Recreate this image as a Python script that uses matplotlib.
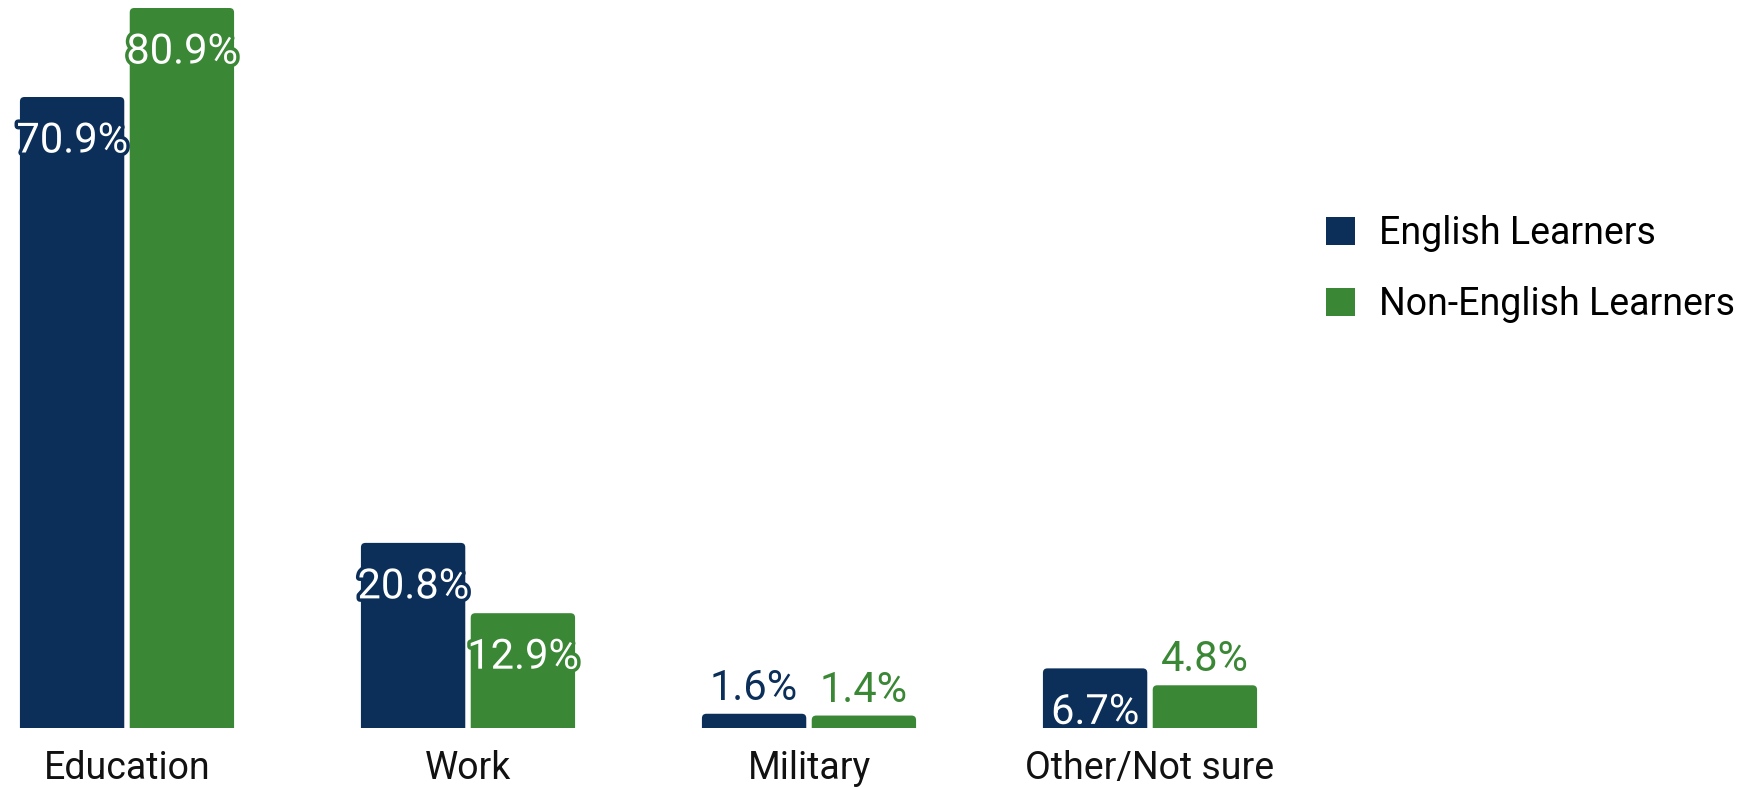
import matplotlib
matplotlib.use("Agg")
import matplotlib.pyplot as plt
import matplotlib.patheffects as pe
from matplotlib.patches import FancyBboxPatch
import numpy as np

plt.rcParams['font.family'] = ['Roboto', 'DejaVu Sans']

categories = ["Education", "Work", "Military", "Other/Not sure"]
series_names = ["English Learners", "Non-English Learners"]
english_learners = [70.9, 20.8, 1.6, 6.7]
non_english_learners = [80.9, 12.9, 1.4, 4.8]
colors = ["#0c2f5a", "#3a8735"]

W, H = 1744, 787
fig = plt.figure(figsize=(W / 100, H / 100), dpi=100)

# layout in pixels
px_per_x = 341.0
first_center_px = 127.0
ax_right_px = 1290.0
base_px = 728.0
px_per_y = 720.0 / 80.9

ax = fig.add_axes([0, (H - base_px) / H, ax_right_px / W, base_px / H])
x0 = -first_center_px / px_per_x
ax.set_xlim(x0, x0 + ax_right_px / px_per_x)
ax.set_ylim(0, base_px / px_per_y)

x = np.arange(len(categories))
bar_w = 0.306
gap = 0.016
offsets = [-(bar_w + gap) / 2, (bar_w + gap) / 2]
series = [english_learners, non_english_learners]

radius = 4.5 / px_per_x
aspect = px_per_x / px_per_y

for s, (vals, col, name) in enumerate(zip(series, colors, series_names)):
    bars = ax.bar(x + offsets[s], vals, width=bar_w, color=col, label=name)
    for b, v in zip(bars, vals):
        bx, bw, bh = b.get_x(), b.get_width(), b.get_height()
        b.set_visible(False)
        # rounded top corners; bottom corners fall below the axis and are clipped
        p = FancyBboxPatch((bx, -2), bw, bh + 2,
                           boxstyle=f"round,pad=0,rounding_size={radius}",
                           mutation_aspect=aspect, facecolor=col,
                           edgecolor="none", clip_on=True)
        ax.add_patch(p)
        cx = bx + bw / 2
        label = f"{v}%"
        if v >= 5:
            y = v - 44 / px_per_y
            t = ax.text(cx, y, label, ha="center", va="center", fontsize=30,
                        color="white", clip_on=True, zorder=5)
            t.set_path_effects([pe.withStroke(linewidth=5, foreground=col)])
        else:
            ax.text(cx, v + 14 / px_per_y, label, ha="center", va="baseline",
                    fontsize=30, color=col, zorder=5)

ax.set_xticks(x)
ax.set_xticklabels(categories, fontsize=27, color="#111111")
ax.tick_params(axis="x", length=0, pad=16)
ax.set_yticks([])
for sp in ax.spines.values():
    sp.set_visible(False)

handles, labels = ax.get_legend_handles_labels()
leg = fig.legend(handles, labels, loc="center left",
                 bbox_to_anchor=(1326 / W, 1 - 269 / H),
                 frameon=False, fontsize=27, handlelength=0.77,
                 handleheight=0.77, handletextpad=0.64, labelspacing=0.92,
                 borderpad=0, borderaxespad=0)
for h in leg.legend_handles:
    h.set_visible(True)

fig.savefig("out.png", dpi=100, facecolor="white")
